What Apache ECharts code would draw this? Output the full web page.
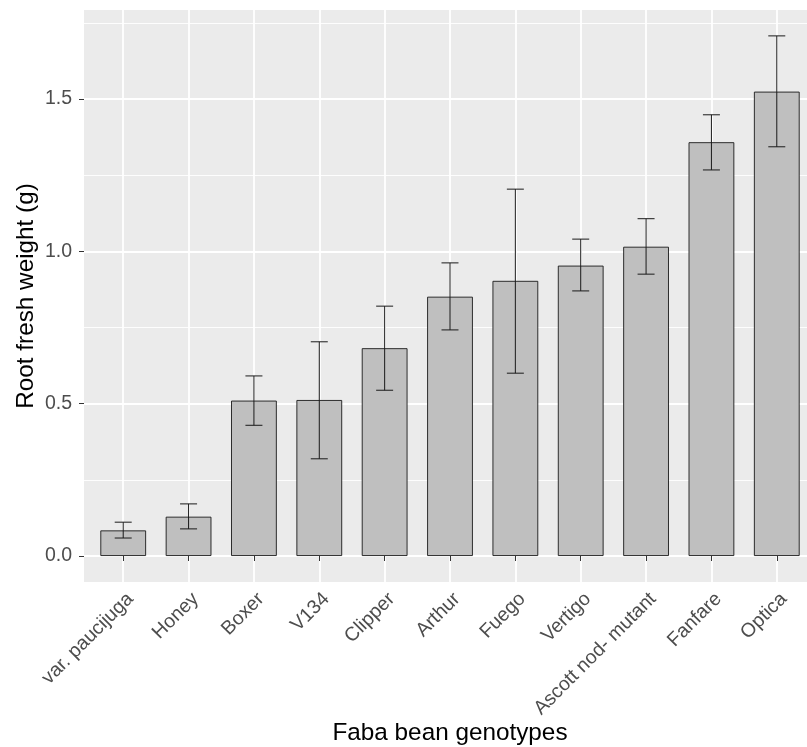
<!DOCTYPE html>
<html>
<head>
<meta charset="utf-8">
<script src="https://cdn.jsdelivr.net/npm/echarts@6/dist/echarts.min.js"></script>
<style>
html,body{margin:0;padding:0;background:#fff;}
#chart{width:807px;height:747px;}
</style>
</head>
<body>
<div id="chart"></div>
<script>
// ---- data ----
const categories = ['var. paucijuga','Honey','Boxer','V134','Clipper','Arthur','Fuego','Vertigo','Ascott nod- mutant','Fanfare','Optica'];
const means = [0.084, 0.129, 0.510, 0.512, 0.682, 0.851, 0.903, 0.953, 1.015, 1.358, 1.524];
const upper = [0.111, 0.171, 0.591, 0.703, 0.820, 0.962, 1.204, 1.040, 1.107, 1.448, 1.707];
const lower = [0.059, 0.089, 0.429, 0.319, 0.544, 0.742, 0.600, 0.870, 0.925, 1.267, 1.343];
const yTickValues = [0, 0.5, 1.0, 1.5];

// ---- layout ----
const FONT = "'Liberation Sans', Arial, sans-serif";
const PANEL_L = 84, PANEL_T = 10, PANEL_W = 732, PANEL_H = 572;
const Y0PX = 556;            // pixel of value 0
const PX_PER_UNIT = 304.7;   // pixels per 1.0
const N = categories.length;
const STEP = PANEL_W / (N - 1 + 1.2);     // ggplot discrete expansion 0.6 each side
const FIRST_C = PANEL_L + 0.6 * STEP;
const Y_TOP_VAL = 2.0;
const yMinPanel = -(PANEL_T + PANEL_H - Y0PX) / PX_PER_UNIT;
const yMaxPanel = (Y0PX - PANEL_T) / PX_PER_UNIT;
const TICK_FS = 19.5, TITLE_FS = 24.3;

const chart = echarts.init(document.getElementById('chart'), null, {renderer: 'canvas'});

const errData = categories.map((c, i) => [i, lower[i], upper[i]]);

const option = {
  animation: false,
  backgroundColor: '#ffffff',
  textStyle: {fontFamily: FONT},
  grid: [
    {left: PANEL_L, top: PANEL_T, width: PANEL_W, height: PANEL_H, show: true,
     backgroundColor: '#EBEBEB', borderWidth: 0, z: -5, outerBoundsMode: 'none', containLabel: false},
    {left: PANEL_L, top: Y0PX - Y_TOP_VAL * PX_PER_UNIT, width: PANEL_W,
     height: Y_TOP_VAL * PX_PER_UNIT, show: false, outerBoundsMode: 'none', containLabel: false},
    {left: FIRST_C, top: PANEL_T, width: STEP * (N - 1), height: PANEL_H, show: false,
     outerBoundsMode: 'none', containLabel: false}
  ],
  xAxis: [
    {gridIndex: 0, type: 'value', min: 0, max: 1,
     axisLine: {show: false}, axisTick: {show: false}, axisLabel: {show: false}, splitLine: {show: false},
     name: 'Faba bean genotypes', nameLocation: 'middle', nameGap: 139,
     nameTextStyle: {fontSize: TITLE_FS, color: '#000', fontFamily: FONT}},
    {gridIndex: 1, type: 'value', min: 0, max: 1, show: false},
    {gridIndex: 2, type: 'category', data: categories, boundaryGap: false,
     axisLine: {show: false},
     axisTick: {show: true, length: 5, lineStyle: {color: '#333333', width: 1}},
     axisLabel: {rotate: 45, align: 'right', verticalAlign: 'top', color: '#4D4D4D',
       fontSize: TICK_FS, margin: 7, fontFamily: FONT, interval: 0},
     splitLine: {show: true, lineStyle: {color: '#ffffff', width: 1.8}}}
  ],
  yAxis: [
    {gridIndex: 0, type: 'value', min: 0, max: 1,
     axisLine: {show: false}, axisTick: {show: false}, axisLabel: {show: false}, splitLine: {show: false},
     name: 'Root fresh weight (g)', nameLocation: 'middle', nameGap: 46,
     nameTextStyle: {fontSize: TITLE_FS, color: '#000', fontFamily: FONT}},
    {gridIndex: 1, type: 'value', min: 0, max: Y_TOP_VAL, interval: 0.5,
     axisLine: {show: false},
     axisTick: {show: true, length: 5, lineStyle: {color: '#333333', width: 1}},
     axisLabel: {color: '#4D4D4D', fontSize: TICK_FS, margin: 12, fontFamily: FONT,
       formatter: v => (yTickValues.some(t => Math.abs(t - v) < 1e-9) ? v.toFixed(1) : '')},
     splitLine: {show: true, lineStyle: {color: '#ffffff', width: 1.8}},
     minorTick: {show: false, splitNumber: 2},
     minorSplitLine: {show: true, lineStyle: {color: '#ffffff', width: 0.9}}},
    {gridIndex: 2, type: 'value', min: yMinPanel, max: yMaxPanel, show: false}
  ],
  series: [
    {type: 'bar', xAxisIndex: 2, yAxisIndex: 2, data: means, barWidth: 0.7 * STEP, clip: false,
     itemStyle: {color: '#BFBFBF', borderColor: '#1A1A1A', borderWidth: 0.9}, z: 3},
    {type: 'custom', xAxisIndex: 2, yAxisIndex: 2, data: errData, clip: false, z: 4,
     renderItem: function (params, api) {
       const x = api.value(0);
       const lo = api.coord([x, api.value(1)]);
       const hi = api.coord([x, api.value(2)]);
       const half = STEP * 0.13;
       const style = {stroke: '#1A1A1A', lineWidth: 1};
       return {type: 'group', children: [
         {type: 'line', shape: {x1: lo[0], y1: lo[1], x2: hi[0], y2: hi[1]}, style: style},
         {type: 'line', shape: {x1: hi[0] - half, y1: hi[1], x2: hi[0] + half, y2: hi[1]}, style: style},
         {type: 'line', shape: {x1: lo[0] - half, y1: lo[1], x2: lo[0] + half, y2: lo[1]}, style: style}
       ]};
     }}
  ]
};
chart.setOption(option);
</script>
</body>
</html>
